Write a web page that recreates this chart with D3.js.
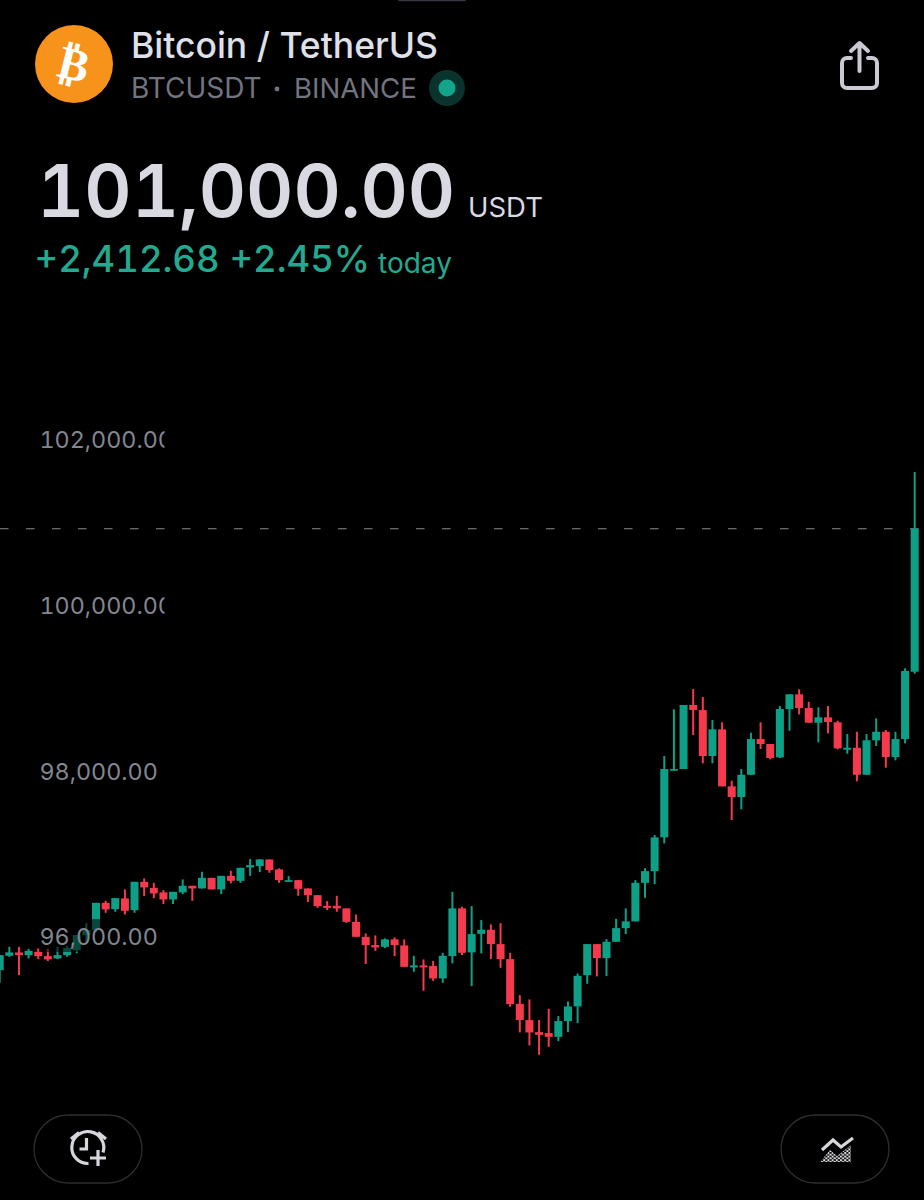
<!DOCTYPE html>
<html><head><meta charset="utf-8">
<script src="https://cdnjs.cloudflare.com/ajax/libs/d3/7.8.5/d3.min.js"></script>
<style>html,body{margin:0;background:#000}svg{display:block}text{font-family:Inter,"Noto Sans",sans-serif;font-variant-numeric:tabular-nums;font-feature-settings:"tnum"}</style>
</head><body>
<script>
const opens=[95672,95845,95886,95853,95893,95841,95813,95853,95913,96095,96155,96484,96408,96538,96396,96738,96665,96610,96525,96610,96690,96658,96786,96646,96810,96750,96912,96927,97008,96888,96738,96758,96658,96577,96448,96448,96417,96255,96074,95974,95953,96043,95970,95705,95729,95723,95572,95841,96417,95886,96110,96159,95986,95805,95265,95069,94924,94912,94867,95057,95234,95612,95986,95817,96014,96179,96260,96726,96867,97275,98079,98099,98872,98811,98256,98578,97890,97761,98030,98461,98401,98240,98823,99001,98835,98658,98723,98663,98332,98356,98030,98446,98549,98244,98461,99274];
const highs=[95853,95953,95953,95929,95934,95934,95953,95965,96095,96239,96484,96509,96541,96646,96738,96779,96726,96638,96617,96767,96690,96859,96786,96810,96871,96907,97012,97012,97008,96900,96807,96758,96658,96577,96505,96569,96417,96344,96115,96091,96055,96067,96043,95845,95801,95784,95881,96617,96436,96445,96276,96224,96239,95881,95370,95318,95069,95205,95117,95294,95632,95986,95986,96046,96291,96417,96758,96903,97302,98256,98820,98872,99065,98968,98691,98663,97958,98099,98537,98663,98401,98860,99001,99061,98911,98844,98860,98682,98522,98549,98522,98711,98570,98549,99315,101684];
const lows=[95520,95833,95612,95813,95805,95781,95805,95833,95877,96010,96131,96364,96376,96344,96364,96565,96541,96469,96469,96589,96509,96658,96646,96589,96719,96726,96810,96855,96847,96726,96738,96569,96493,96424,96396,96376,96243,96074,95745,95905,95938,95841,95712,95652,95422,95543,95519,95753,95853,95479,95874,95805,95700,95229,94920,94763,94650,94746,94815,94924,95032,95507,95596,95600,96014,96107,96260,96545,96710,97202,98079,98099,98510,98168,98168,97890,97484,97613,98030,98341,98216,98232,98561,98759,98658,98421,98530,98337,98284,97951,98027,98377,98115,98204,98409,99250];
const closes=[95853,95886,95853,95905,95841,95801,95853,95938,96095,96155,96484,96405,96541,96388,96738,96670,96598,96525,96617,96690,96658,96786,96646,96810,96750,96907,96939,97008,96879,96758,96758,96653,96577,96445,96424,96417,96255,96074,95974,95946,96043,95974,95712,95729,95705,95572,95845,96417,95881,96107,96159,95986,95805,95262,95069,94920,94891,94867,95057,95234,95603,95986,95817,96014,96179,96260,96726,96867,97274,98099,98099,98872,98811,98256,98578,97890,97761,98030,98461,98401,98232,98823,99001,98835,98658,98723,98666,98349,98356,98030,98446,98549,98244,98461,99282,101000];
const priceTicks=[102000,100000,98000,96000];
const lastPrice=101000;
const titleText="Bitcoin / TetherUS";
const symbolText="BTCUSDT";
const exchangeText="BINANCE";
const priceText="101,000.00";
const unitText="USDT";
const changeText="+2,412.68 +2.45%";
const todayText="today";

const W=924,H=1200,UP="#0ea086",DOWN="#f43a4c";
const svg=d3.select("body").append("svg").attr("width",W).attr("height",H).attr("viewBox",[0,0,W,H]);
svg.append("rect").attr("width",W).attr("height",H).attr("fill","#000");
const defs=svg.append("defs");
defs.append("clipPath").attr("id","lab").append("rect").attr("x",0).attr("y",400).attr("width",164.5).attr("height",600);
const pat=defs.append("pattern").attr("id","dots").attr("patternUnits","userSpaceOnUse").attr("width",4.2).attr("height",3.6);
pat.append("circle").attr("cx",1).attr("cy",1).attr("r",1.15).attr("fill","#e0e0e6");
pat.append("circle").attr("cx",3.1).attr("cy",2.8).attr("r",1.15).attr("fill","#e0e0e6");

// top notch
svg.append("rect").attr("x",398).attr("y",-2).attr("width",68).attr("height",3.2).attr("rx",1.5).attr("fill","#3a3a46");

// scales: one pixel = 12.07 USD
const y=d3.scaleLinear().domain([101000,94000]).range([528.7,528.7+7000/12.07]);
const x=d3.scaleLinear().domain([0,95]).range([-0.3,914.7]);
const idx=d3.range(opens.length);
const color=i=>closes[i]>=opens[i]?UP:DOWN;

// last price line
svg.append("line").attr("x1",0).attr("x2",W).attr("y1",y(lastPrice)).attr("y2",y(lastPrice))
  .attr("stroke","#8b8b90").attr("stroke-width",1.1).attr("stroke-dasharray","8.5 17.5");

// candles
const g=svg.append("g");
g.selectAll("line").data(idx).join("line")
  .attr("x1",i=>x(i)).attr("x2",i=>x(i)).attr("y1",i=>y(highs[i])).attr("y2",i=>y(lows[i]))
  .attr("stroke",color).attr("stroke-width",2);
g.selectAll("rect").data(idx).join("rect")
  .attr("x",i=>x(i)-4).attr("width",8)
  .attr("y",i=>y(Math.max(opens[i],closes[i])))
  .attr("height",i=>Math.max(1.5,Math.abs(y(opens[i])-y(closes[i]))))
  .attr("fill",color);

// axis labels overlay candles with a translucent backing
svg.append("rect").attr("x",40).attr("y",919).attr("width",124).attr("height",33).attr("fill","#000").attr("opacity",.55);
const axis=d3.axisRight(y).tickValues(priceTicks).tickSize(0).tickPadding(0).tickFormat(d3.format(",.2f"));
const ax=svg.append("g").attr("clip-path","url(#lab)").append("g").attr("transform","translate(39.5,-5.5)").call(axis);
ax.select(".domain").remove();
ax.selectAll("text").attr("fill","#83868f").attr("font-size",23.3).attr("font-family","Inter,sans-serif").attr("x",0);

// header
const coin=svg.append("g").attr("transform","translate(74,64)");
coin.append("circle").attr("r",39).attr("fill","#f7931a");
coin.append("text").attr("text-anchor","middle").attr("y",16).attr("transform","rotate(14)").attr("fill","#fff")
  .attr("font-size",46).attr("font-weight",700).style("font-family","'DejaVu Sans'").text("₿");

const t=(s,xx,yy,size,fill,weight)=>svg.append("text").attr("x",xx).attr("y",yy).attr("font-size",size).attr("fill",fill).attr("font-weight",weight||400).text(s);
t(titleText,131,58,35.5,"#dfe0e8",500);
t(symbolText,131,98,28,"#72747f");
svg.append("circle").attr("cx",277).attr("cy",89).attr("r",2.4).attr("fill","#72747f");
t(exchangeText,294,98,27.6,"#72747f");
svg.append("circle").attr("cx",447).attr("cy",88).attr("r",18).attr("fill","#0b332d");
svg.append("circle").attr("cx",447).attr("cy",88).attr("r",8.5).attr("fill","#12a58a");
t(priceText,37,217,73.2,"#d8d9e1",600);
t(unitText,468,217,27.5,"#d8d9e1");
t(changeText,34.5,272,36.5,"#22a98f",500);
t(todayText,378,273,28,"#22a98f");

// share icon
const sh=svg.append("g").attr("fill","none").attr("stroke","#c9cad2").attr("stroke-width",4).attr("stroke-linecap","round").attr("stroke-linejoin","round");
sh.append("path").attr("d","M851 58h-4a5 5 0 0 0-5 5v20a5 5 0 0 0 5 5h25a5 5 0 0 0 5-5v-20a5 5 0 0 0-5-5h-4");
sh.append("path").attr("d","M859.5 71V44M851 51l8.5-8 8.5 8");

// bottom pills
[[34,1115],[781,1115]].forEach(([px,py])=>svg.append("rect").attr("x",px).attr("y",py).attr("width",108).attr("height",68).attr("rx",34).attr("fill","none").attr("stroke","#2e2e32").attr("stroke-width",1.3));
const al=svg.append("g").attr("fill","none").attr("stroke","#d6d6dc").attr("stroke-width",3.2);
al.append("path").attr("d","M88.5 1163.5a16 16 0 1 1 14.5-11");
al.append("path").attr("d","M86.5 1138v11h-7");
al.append("path").attr("d","M71 1139l8-6.5M106 1139l-8-6.5");
al.append("path").attr("d","M98 1150v16M90 1158h16");
const li=svg.append("g");
li.append("path").attr("d","M822 1150l11-10 8 7 12-9").attr("fill","none").attr("stroke","#d6d6dc").attr("stroke-width",3.2);
li.append("path").attr("d","M820 1162l10-12 7 6 4-3 10-8v17z").attr("fill","url(#dots)");
</script>
</body></html>
